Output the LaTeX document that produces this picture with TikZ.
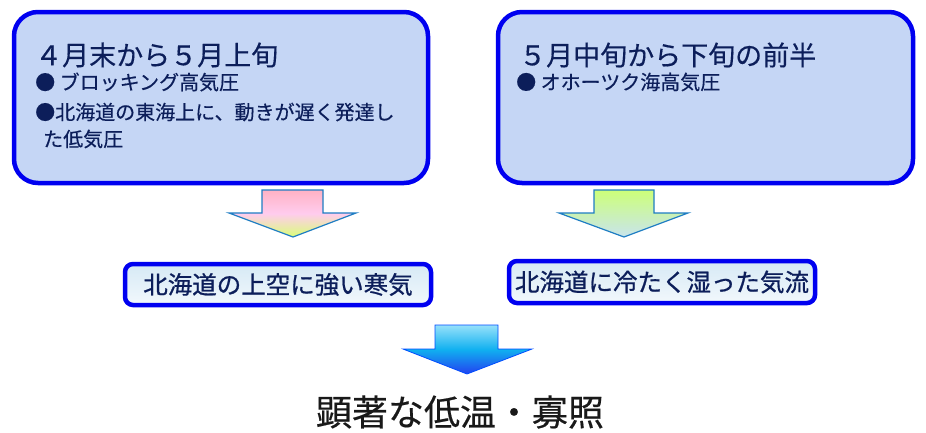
\documentclass[tikz,border=0pt]{standalone}
\usepackage{fontspec}
\setmainfont{Noto Sans CJK JP}
\newfontfamily\jpmed[FakeBold=0.8]{Noto Sans CJK JP}
\newfontfamily\jpsemi[FakeBold=0.4]{Noto Sans CJK JP}
\definecolor{boxblue}{RGB}{0,0,240}
\definecolor{boxfill}{RGB}{197,214,245}
\definecolor{navy}{RGB}{12,30,90}
\definecolor{sbtop}{RGB}{214,233,245}
\definecolor{sbbot}{RGB}{242,248,252}
\definecolor{arrline}{RGB}{30,125,195}
\definecolor{pinkA}{RGB}{255,178,196}
\definecolor{pinkB}{RGB}{255,204,238}
\definecolor{lime}{RGB}{218,255,120}
\definecolor{limeB}{RGB}{205,255,120}
\definecolor{pale}{RGB}{200,228,238}
\definecolor{cyanA}{RGB}{150,225,250}
\definecolor{cyanB}{RGB}{16,176,240}
\definecolor{blueC}{RGB}{35,65,240}
\begin{document}
\begin{tikzpicture}[x=1pt,y=-1pt,
  bigbox/.style={draw=boxblue, line width=4.5pt, fill=boxfill, rounded corners=24pt, inner sep=0pt},
  smallbox/.style={draw=boxblue, line width=4.5pt, rounded corners=8pt, top color=sbtop, bottom color=sbbot, inner sep=0pt, text=navy, font=\jpmed\fontsize{24.5}{27}\selectfont},
  ttl/.style={anchor=west, inner sep=0pt, font=\jpsemi\fontsize{27}{30}\selectfont, text=navy},
  bul/.style={anchor=west, inner sep=0pt, font=\jpsemi\fontsize{20}{22}\selectfont, text=navy},
  blockarrow/.style={draw=arrline, line width=1.2pt, line join=miter}
]
\useasboundingbox (0,0) rectangle (926,432);

% big boxes
\node[bigbox, minimum width=414pt, minimum height=171pt] (boxL) at (221,97.5) {};
\node[bigbox, minimum width=415pt, minimum height=171pt] (boxR) at (705.5,97.5) {};

% left box text
\node[ttl] (tL) at (35,55) {４月末から５月上旬};
\node[bul] (bL1) at (35,82) {● ブロッキング高気圧};
\node[bul] (bL2) at (35,112) {●北海道の東海上に、動きが遅く発達し};
\node[bul] (bL3) at (43,139) {た低気圧};

% right box text
\node[ttl] (tR) at (519,55) {５月中旬から下旬の前半};
\node[bul] (bR1) at (516,82) {● オホーツク海高気圧};

% arrows from big boxes
\path[blockarrow, top color=pinkA, bottom color=lime, middle color=pinkB]
  (262,190) -- (323,190) -- (323,213) -- (356,213) -- (293,237) -- (229,213) -- (262,213) -- cycle;
\path[blockarrow, top color=limeB, bottom color=pale]
  (594,190) -- (654,190) -- (654,213) -- (688,213) -- (624,237) -- (559,213) -- (594,213) -- cycle;

% small boxes
\node[smallbox, minimum width=306pt, minimum height=41pt] (sL) at (278,284.5) {北海道の上空に強い寒気};
\node[smallbox, minimum width=306pt, minimum height=42pt] (sR) at (662,282) {北海道に冷たく湿った気流};

% final arrow
\path[draw=blue!70!cyan, line width=0.8pt, top color=cyanA, bottom color=blueC, middle color=cyanB]
  (435,325) -- (498,325) -- (498,349) -- (532,349) -- (467,374) -- (403,349) -- (435,349) -- cycle;

% result
\node[inner sep=0pt, font=\jpsemi\fontsize{36}{40}\selectfont, text=black!90] (res) at (460,412) {顕著な低温・寡照};
\end{tikzpicture}
\end{document}
